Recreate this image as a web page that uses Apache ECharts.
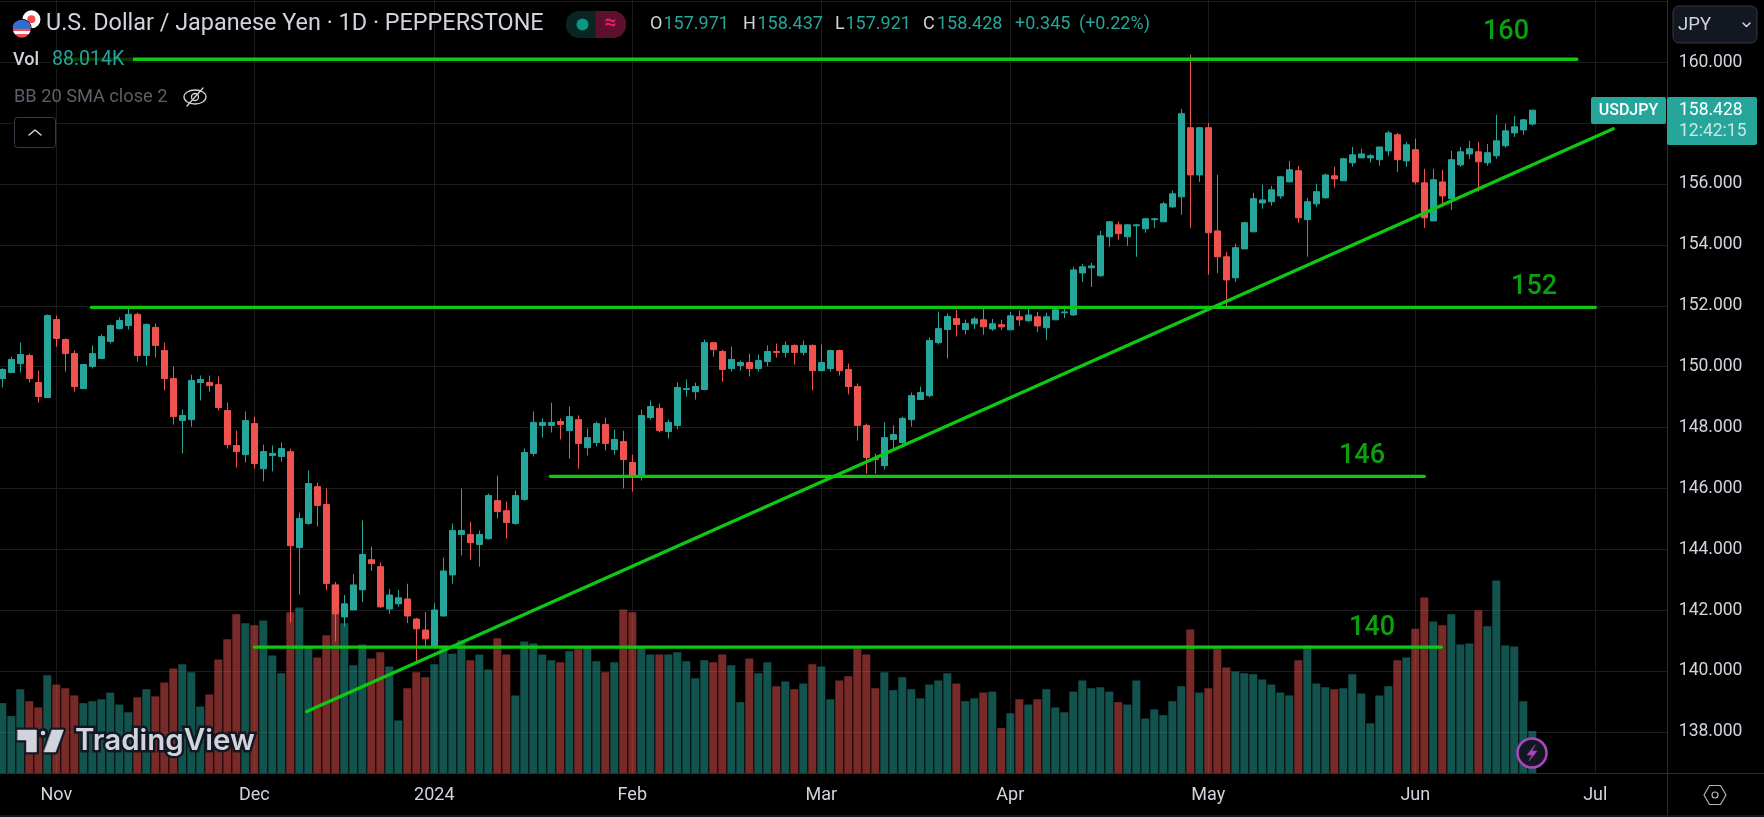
<!DOCTYPE html>
<html lang="en">
<head>
  <meta charset="UTF-8">
  <title>USDJPY 1D</title>
  <script src="https://cdn.jsdelivr.net/npm/echarts@6/dist/echarts.min.js"></script>
  <style>
    html, body { margin: 0; padding: 0; background: #000; }
    #chart { width: 1764px; height: 817px; }
  </style>
</head>
<body>
  <div id="chart"></div>

  <script>
    // one row per session: open, close, low, high
    const ohlc = [
      [149.61,149.91,149.32,149.95],[149.81,150.24,149.81,150.33],[150.10,150.40,149.81,150.79],[150.37,149.61,149.48,150.43],
      [149.48,149.02,148.82,149.87],[148.99,151.68,148.99,151.72],[151.55,150.93,150.66,151.68],[150.89,150.43,149.84,150.93],
      [150.43,149.35,149.18,150.53],[149.28,150.07,149.28,150.07],[150.01,150.43,149.94,150.70],[150.27,150.99,150.27,151.06],
      [150.83,151.35,150.76,151.39],[151.25,151.52,151.22,151.62],[151.35,151.72,151.22,151.91],[151.72,150.37,150.17,151.78],
      [150.37,151.39,150.04,151.42],[151.29,150.70,150.30,151.42],[150.53,149.61,149.22,150.79],[149.61,148.36,148.10,150.01],
      [148.23,148.40,147.15,148.59],[148.26,149.55,148.03,149.74],[149.48,149.58,148.89,149.71],[149.48,149.38,149.18,149.71],
      [149.41,148.66,148.56,149.68],[148.56,147.44,147.31,148.82],[147.41,147.21,146.69,147.90],[147.11,148.23,146.85,148.53],
      [148.13,146.82,146.65,148.36],[146.65,147.21,146.23,147.44],[147.08,147.15,146.56,147.41],[147.05,147.31,146.88,147.51],
      [147.21,144.12,141.60,147.31],[144.06,145.01,142.51,145.21],[144.85,146.16,144.81,146.59],[146.06,145.44,144.75,146.19],
      [145.47,142.88,142.65,146.00],[142.83,141.88,140.97,142.93],[141.78,142.21,141.46,142.50],[142.01,142.83,142.01,143.19],
      [142.67,143.83,142.27,144.95],[143.66,143.53,143.29,144.09],[143.43,142.11,142.08,143.57],[142.04,142.50,141.88,142.70],
      [142.21,142.41,142.11,142.67],[142.37,141.81,141.58,142.87],[141.71,141.39,140.26,141.75],[141.35,141.06,140.83,141.94],
      [140.80,142.01,140.80,142.24],[141.81,143.29,141.81,143.73],[143.16,144.62,142.87,144.85],[144.49,144.62,143.80,146.00],
      [144.49,144.22,143.66,144.91],[144.16,144.49,143.43,144.62],[144.35,145.77,144.32,145.83],[145.60,145.24,145.01,146.42],
      [145.27,144.88,144.35,145.57],[144.85,145.77,144.81,145.93],[145.64,147.18,145.60,147.31],[147.15,148.17,147.05,148.53],
      [148.07,148.17,147.67,148.30],[148.07,148.17,147.84,148.82],[148.20,148.10,147.61,148.30],[147.90,148.36,146.98,148.69],
      [148.26,147.48,146.65,148.40],[147.34,147.67,147.08,147.97],[147.51,148.13,147.38,148.20],[148.10,147.48,147.25,148.33],
      [147.28,147.61,147.11,147.94],[147.54,146.95,146.00,147.90],[146.85,146.39,145.90,147.11],[146.39,148.40,146.26,148.59],
      [148.33,148.69,148.26,148.89],[148.63,147.90,147.84,148.79],[147.87,148.17,147.64,148.26],[148.07,149.32,147.94,149.48],
      [149.25,149.28,149.02,149.58],[149.18,149.35,148.92,149.48],[149.25,150.79,149.22,150.89],[150.79,150.56,150.33,150.79],
      [150.50,149.91,149.51,150.56],[149.94,150.24,149.84,150.66],[150.04,150.14,149.87,150.20],[150.14,149.94,149.68,150.43],
      [149.94,150.20,149.84,150.40],[150.17,150.50,150.01,150.70],[150.50,150.47,150.30,150.76],[150.47,150.70,150.30,150.83],
      [150.70,150.47,150.07,150.73],[150.47,150.70,150.37,150.86],[150.70,149.87,149.22,150.73],[149.87,150.14,149.87,150.73],
      [149.94,150.53,149.84,150.56],[150.53,149.87,149.71,150.56],[149.91,149.35,149.09,150.10],[149.35,148.07,147.57,149.45],
      [148.07,147.02,146.49,148.13],[146.98,146.95,146.49,147.15],[146.75,147.67,146.62,148.17],[147.61,147.77,147.25,148.07],
      [147.51,148.30,147.44,148.36],[148.26,149.05,148.03,149.15],[148.92,149.15,148.92,149.35],[149.05,150.86,148.99,150.96],
      [150.79,151.25,150.73,151.81],[151.22,151.65,150.27,151.75],[151.58,151.39,150.99,151.88],[151.22,151.42,151.06,151.55],
      [151.41,151.57,151.24,151.64],[151.54,151.31,151.05,152.00],[151.24,151.41,151.18,151.57],[151.38,151.31,151.21,151.54],
      [151.21,151.67,151.21,151.80],[151.64,151.54,151.34,151.84],[151.51,151.70,151.47,151.93],[151.64,151.34,151.14,151.80],
      [151.28,151.64,150.88,151.77],[151.54,151.87,151.54,151.93],[151.77,151.80,151.60,151.90],[151.70,153.18,151.67,153.28],
      [153.08,153.28,152.79,153.38],[153.25,153.31,152.62,153.41],[152.99,154.30,152.95,154.46],[154.27,154.76,153.94,154.79],
      [154.66,154.37,154.17,154.76],[154.27,154.66,153.97,154.69],[154.63,154.66,153.61,154.69],[154.53,154.86,154.40,154.89],
      [154.83,154.86,154.56,154.89],[154.76,155.35,154.76,155.42],[155.25,155.68,155.22,155.78],[155.58,158.31,154.99,158.47],
      [157.85,156.30,154.56,160.25],[156.30,157.85,156.07,157.88],[157.85,154.40,153.02,158.01],[154.46,153.61,153.08,156.30],
      [153.61,152.85,151.90,153.77],[152.92,153.91,152.79,154.04],[153.87,154.73,153.87,154.76],[154.43,155.52,154.43,155.71],
      [155.38,155.48,155.19,155.98],[155.42,155.81,155.29,155.94],[155.61,156.24,155.52,156.27],[156.07,156.47,156.07,156.76],
      [156.44,154.89,154.73,156.60],[154.83,155.42,153.61,155.55],[155.35,155.75,155.25,156.01],[155.55,156.30,155.52,156.34],
      [156.27,156.17,155.88,156.57],[156.11,156.83,156.11,156.86],[156.70,156.96,156.57,157.22],[156.86,156.99,156.86,157.16],
      [156.86,156.93,156.70,156.99],[156.80,157.22,156.60,157.22],[157.09,157.68,156.93,157.75],[157.62,156.80,156.40,157.68],
      [156.76,157.29,156.57,157.39],[157.13,156.07,155.98,157.49],[156.04,154.89,154.56,156.50],[154.79,156.14,154.79,156.50],
      [156.07,155.61,155.32,156.47],[155.52,156.80,155.15,157.09],[156.63,157.06,156.57,157.22],[156.99,157.16,156.83,157.42],
      [157.06,156.73,155.75,157.39],[156.70,157.03,156.60,157.32],[156.93,157.42,156.83,158.28],[157.26,157.75,157.19,157.98],
      [157.68,157.88,157.55,158.24],[157.78,158.11,157.62,158.14],[157.971,158.428,157.921,158.437]
    ];

    // volume in thousands, same order as ohlc
    const volumes = [
      146,119,175,150,137,204,185,177,162,146,150,154,168,143,127,158,175,160,189,218,
      227,210,139,164,237,279,331,312,308,318,245,208,335,345,264,241,287,393,312,225,
      268,239,252,222,110,177,210,200,227,266,249,277,235,247,216,281,247,162,274,270,
      247,235,231,254,260,262,233,210,231,341,335,260,247,247,247,252,233,198,235,231,
      247,225,148,239,208,231,181,191,175,187,227,222,154,193,202,260,247,177,210,173,
      200,175,156,185,193,208,187,150,156,168,170,94,125,154,143,154,175,137,127,170,
      193,177,179,170,148,143,193,114,133,121,150,181,299,168,177,260,220,212,208,206,
      195,185,168,162,235,266,187,179,175,177,206,166,104,162,181,235,241,301,366,316,
      308,331,268,270,339,306,401,266,264,150,88.014
    ];

    const slotCount = 186; // sessions plus the empty room up to the price scale
    const tickIndex = [6, 28, 48, 70, 91, 112, 134, 157, 177];
    const tickLabels = ['Nov', 'Dec', '2024', 'Feb', 'Mar', 'Apr', 'May', 'Jun', 'Jul'];

    // drawn lines: [bar index, price] at both ends
    const line160 = [[6.9, 160.10], [174.95, 160.10]];
    const line152 = [[9.9, 151.95], [177.0, 151.95]];
    const line146 = [[60.9, 146.40], [158.0, 146.40]];
    const line140 = [[28.0, 140.79], [159.9, 140.79]];
    const trendLine = [[33.82, 138.67], [179.0, 157.82]];
    const lineNotes = [[167.08, 160.98, '160'], [170.2, 152.62, '152'], [151.08, 147.06, '146'], [152.2, 141.40, '140']];

    const UP = '#26a69a', DOWN = '#ef5350', GREEN = '#0ec814', FONT = 'Roboto, sans-serif';
    const TEXT = '#d1d4dc', GRID = '#1b1b1b', EDGE = '#2a2e39';

    const categories = [];
    for (let i = 0; i < slotCount; i++) {
      const t = tickIndex.indexOf(i);
      categories.push(t >= 0 ? tickLabels[t] : String(i));
    }
    const isTick = i => tickIndex.indexOf(i) >= 0;

    const volumeData = volumes.map((v, i) => ({
      value: v,
      itemStyle: { color: ohlc[i][1] >= ohlc[i][0] ? 'rgba(38,166,154,0.5)' : 'rgba(239,83,80,0.5)' }
    }));

    function drawnLine(name, data) {
      return {
        name: name, type: 'line', xAxisIndex: 2, yAxisIndex: 1, data: data, z: 3,
        symbol: 'none', silent: true, animation: false,
        lineStyle: { color: GREEN, width: 3.3, cap: 'round' }
      };
    }

    function label(x, y, text, size, fill, align, weight) {
      return {
        type: 'text', z: 20, x: x, y: y, silent: true,
        style: {
          text: text, fill: fill, textAlign: align || 'left', textVerticalAlign: 'middle',
          font: (weight || 400) + ' ' + size + 'px ' + FONT
        }
      };
    }
    function box(x, y, w, h, fill, r, stroke) {
      return {
        type: 'rect', z: 19, silent: true, shape: { x: x, y: y, width: w, height: h, r: r || 0 },
        style: { fill: fill, stroke: stroke || null, lineWidth: 1 }
      };
    }
    function rule(x1, y1, x2, y2, color) {
      return {
        type: 'line', z: 19, silent: true, shape: { x1: x1, y1: y1, x2: x2, y2: y2 },
        style: { stroke: color, lineWidth: 1 }
      };
    }
    function path(points, stroke, width, fill) {
      return {
        type: fill ? 'polygon' : 'polyline', z: 20, silent: true, shape: { points: points },
        style: { stroke: stroke, lineWidth: width, fill: fill || null, lineJoin: 'round', lineCap: 'round' }
      };
    }
    function dot(cx, cy, r, fill, stroke, width) {
      return {
        type: 'circle', z: 20, silent: true, shape: { cx: cx, cy: cy, r: r },
        style: { fill: fill, stroke: stroke || null, lineWidth: width || 1 }
      };
    }

    const stripes = new echarts.graphic.LinearGradient(0, 0, 0, 1, [
      { offset: 0, color: '#f04e4e' }, { offset: 0.2, color: '#f04e4e' }, { offset: 0.2, color: '#ffffff' },
      { offset: 0.4, color: '#ffffff' }, { offset: 0.4, color: '#f04e4e' }, { offset: 0.6, color: '#f04e4e' },
      { offset: 0.6, color: '#ffffff' }, { offset: 0.8, color: '#ffffff' }, { offset: 0.8, color: '#f04e4e' },
      { offset: 1, color: '#f04e4e' }
    ]);

    const chrome = [
      // price scale panel, painted over the overhang of the grid lines
      { type: 'rect', z: 1, silent: true, shape: { x: 1668, y: 0, width: 96, height: 817 }, style: { fill: '#000' } },
      rule(1667.5, 0, 1667.5, 815, EDGE),
      rule(0, 773.5, 1764, 773.5, EDGE),
      rule(0, 816, 1764, 816, EDGE),
      box(1673, 6, 84, 37, '#131722', 6, '#363a45'),
      label(1678, 25, 'JPY', 18.5, TEXT),
      path([[1743, 23], [1746.5, 26.5], [1750, 23]], TEXT, 1.5),
      box(1591, 97, 75, 27, UP, 2),
      label(1628.5, 110.5, 'USDJPY', 16, '#ffffff', 'center', 500),
      box(1667, 97, 90, 48, UP, 2),
      label(1679, 111, '158.428', 17.5, '#ffffff'),
      label(1679, 132, '12:42:15', 17.5, '#c6e9e5'),
      // hexagon settings button
      path([[1704, 795], [1709.5, 785.5], [1720.5, 785.5], [1726, 795], [1720.5, 804.5], [1709.5, 804.5], [1704, 795]], '#b2b5be', 1.2),
      dot(1715, 795, 3, null, '#b2b5be', 1.2),
      // legend backing dims the 160 line under the volume text
      box(50, 51, 83, 18, 'rgba(0,0,0,0.72)'),
      dot(31.4, 19.3, 9, '#ffffff'),
      dot(31.4, 19.3, 4, '#f04e4e'),
      dot(21.8, 28.7, 10, '#000000'),
      dot(21.8, 28.7, 9, stripes),
      { type: 'sector', z: 20, silent: true, shape: { cx: 21.8, cy: 28.7, r: 9, startAngle: Math.PI, endAngle: Math.PI * 2 },
        style: { fill: '#2d6fd6' } },
      label(46, 24.5, 'U.S. Dollar / Japanese Yen · 1D · PEPPERSTONE', 23.4, TEXT),
      box(566, 11, 60, 27, '#0a2623', 13),
      { type: 'rect', z: 19, silent: true, shape: { x: 595.5, y: 11, width: 30.5, height: 27, r: [0, 13, 13, 0] }, style: { fill: '#5e0f2e' } },
      dot(582.5, 24.5, 6, '#089981'),
      label(610.5, 24, '≈', 21, '#e91e63', 'center', 700),
      label(650, 24, 'O', 18, TEXT), label(663.5, 24, '157.971', 18, UP),
      label(743, 24, 'H', 18, TEXT), label(757.5, 24, '158.437', 18, UP),
      label(835, 24, 'L', 18, TEXT), label(845.5, 24, '157.921', 18, UP),
      label(923, 24, 'C', 18, TEXT), label(937, 24, '158.428', 18, UP),
      label(1015, 24, '+0.345', 18, UP), label(1079, 24, '(+0.22%)', 18, UP),
      label(13, 60.5, 'Vol', 18, TEXT, 'left', 500),
      label(52, 60.5, '88.014K', 19.5, UP),
      label(14, 97.5, 'BB 20 SMA close 2', 18.2, '#5d606b'),
      // hidden-indicator eye
      { type: 'ellipse', z: 20, silent: true, shape: { cx: 195, cy: 97, rx: 11, ry: 7 }, style: { fill: null, stroke: TEXT, lineWidth: 1.3 } },
      dot(195, 97, 3.5, null, TEXT, 1.3),
      path([[187, 106], [203, 88]], TEXT, 1.3),
      box(14.5, 117.5, 41, 30, '#000', 3, '#363a45'),
      path([[29, 135], [35, 130], [41, 135]], TEXT, 1.5),
      // TradingView mark
      path([[17.6, 730], [36.5, 730], [36.5, 752], [26.4, 752], [26.4, 740], [17.6, 740]], '#131722', 5, TEXT),
      path([[52, 730], [63.5, 730], [55.5, 752], [44, 752]], '#131722', 5, TEXT),
      dot(43, 733, 3.8, TEXT, '#131722', 3),
      path([[17.6, 730], [36.5, 730], [36.5, 752], [26.4, 752], [26.4, 740], [17.6, 740]], TEXT, 0.5, TEXT),
      path([[52, 730], [63.5, 730], [55.5, 752], [44, 752]], TEXT, 0.5, TEXT),
      {
        type: 'text', z: 20, x: 75, y: 741, silent: true,
        style: {
          text: 'TradingView', fill: TEXT, textVerticalAlign: 'middle', font: '600 29.5px Inter, sans-serif',
          stroke: '#131722', lineWidth: 5
        }
      },
      // lightning badge
      dot(1532, 753, 14.5, '#131722', '#ab47bc', 2.5),
      path([[1535, 745], [1527, 755], [1532, 755], [1529, 761], [1537, 751], [1532, 751]], '#ab47bc', 0.5, '#ab47bc')
    ];

    const chart = echarts.init(document.getElementById('chart'), null, { renderer: 'canvas' });

    chart.setOption({
      backgroundColor: '#000',
      animation: false,
      grid: [
        { left: -2.2, top: 0, width: 9 * slotCount, height: 773.3, outerBoundsMode: 'none' },
        // price grid runs past the axis so that the scale starts on a multiple of 2
        { left: -2.2, top: 1.42, width: 9 * slotCount, height: 791.44, outerBoundsMode: 'none' }
      ],
      xAxis: [
        {
          type: 'category', gridIndex: 0, data: categories,
          axisLine: { show: false }, axisTick: { show: false },
          axisLabel: {
            color: TEXT, fontFamily: FONT, fontSize: 18, margin: 13,
            interval: i => isTick(i),
            formatter: v => v
          },
          splitLine: { show: true, alignWithLabel: true, interval: i => isTick(i), lineStyle: { color: GRID } }
        },
        { type: 'category', gridIndex: 1, data: categories, show: false },
        { type: 'value', gridIndex: 1, min: -0.5, max: slotCount - 0.5, show: false }
      ],
      yAxis: [
        {
          type: 'value', gridIndex: 0, min: 0, max: 1609, show: false
        },
        {
          type: 'value', gridIndex: 1, position: 'right', min: 136, max: 162, interval: 2,
          axisLine: { show: false }, axisTick: { show: false },
          axisLabel: { show: false },
          splitLine: { show: true, showMinLine: false, lineStyle: { color: GRID } }
        },
        {
          type: 'value', gridIndex: 1, position: 'right', min: 136, max: 162, interval: 2, z: 5,
          axisLine: { show: false }, axisTick: { show: false }, splitLine: { show: false },
          axisLabel: {
            color: TEXT, fontFamily: FONT, fontSize: 17.5, margin: 7, padding: [3, 0, 0, 0],
            showMinLabel: false, showMaxLabel: false,
            formatter: v => v.toFixed(3)
          }
        }
      ],
      graphic: { elements: chrome },
      series: [
        {
          name: 'Vol', type: 'bar', xAxisIndex: 0, yAxisIndex: 0, data: volumeData,
          barWidth: 8, z: 1, silent: true
        },
        {
          name: 'USDJPY', type: 'candlestick', xAxisIndex: 1, yAxisIndex: 1, data: ohlc,
          barWidth: 6, z: 2, silent: true,
          itemStyle: { color: UP, color0: DOWN, borderColor: UP, borderColor0: DOWN, borderWidth: 1 }
        },
        drawnLine('160', line160),
        drawnLine('152', line152),
        drawnLine('146', line146),
        drawnLine('140', line140),
        drawnLine('trend', trendLine),
        {
          name: 'notes', type: 'scatter', xAxisIndex: 2, yAxisIndex: 1, z: 4, silent: true,
          data: lineNotes, symbolSize: 1, itemStyle: { color: 'transparent' },
          label: {
            show: true, position: 'inside', color: GREEN, fontFamily: FONT, fontSize: 27, fontWeight: 500,
            formatter: p => p.value[2]
          }
        }
      ]
    });
  </script>
</body>
</html>
